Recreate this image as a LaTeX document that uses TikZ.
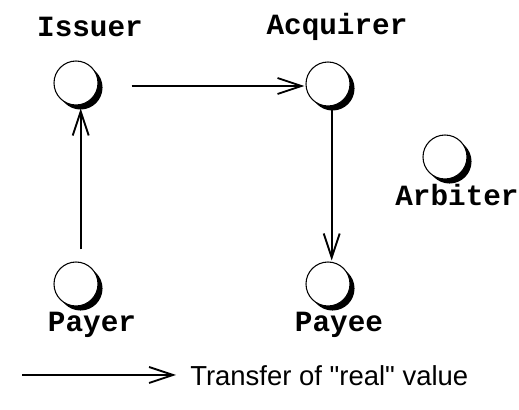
\documentclass[tikz,border=0pt]{standalone}
\usepackage{fontspec}
\setmainfont{Liberation Sans}[Ligatures=TeXOff]
\setmonofont{Liberation Mono}
\usetikzlibrary{arrows.meta,shadows,calc}

\begin{document}
\begin{tikzpicture}[x=0.75pt,y=-0.75pt,
  agent/.style={circle,draw=black,line width=0.8pt,fill=white,minimum size=33pt,inner sep=0pt,
    drop shadow={shadow xshift=3.4pt,shadow yshift=-3.4pt,fill=black,opacity=1}},
  role/.style={font=\ttfamily\bfseries\fontsize{22}{26}\selectfont,inner sep=0pt},
  flow/.style={line width=1.5pt,-{Straight Barb[length=18pt,width=12pt,line width=1.4pt]}}]
\useasboundingbox (0,0) rectangle (519,410);

% parties
\node[agent] (issuer)   at (76,83)   {};
\node[agent] (acquirer) at (328,84)  {};
\node[agent] (arbiter)  at (445,157) {};
\node[agent] (payer)    at (76,284)  {};
\node[agent] (payee)    at (328,284) {};

% names
\node[role] (issuerL)   at (90,27)   {Issuer};
\node[role] (acquirerL) at (337,27)  {Acquirer};
\node[role] (arbiterL)  at (457,195) {Arbiter};
\node[role] (payerL)    at (92,325)  {Payer};
\node[role] (payeeL)    at (339,325) {Payee};

% real value flows
\draw[flow] ($(issuer.east)+(33,3)$) -- ($(acquirer.west)+(-1,2)$);
\draw[flow] ($(payer.north)+(4.7,-12)$) -- ($(issuer.south)+(4.7,3)$);
\draw[flow] ($(acquirer.south)+(3.7,3)$) -- ($(payee.north)+(3.7,-1)$);

% legend
\coordinate (legA) at (22,375);
\coordinate (legB) at (176,375);
\draw[flow] (legA) -- (legB);
\node[anchor=west,font=\fontsize{20.6}{24}\selectfont,inner sep=0pt] (legT) at (190,376) {Transfer of "real" value};
\end{tikzpicture}
\end{document}
